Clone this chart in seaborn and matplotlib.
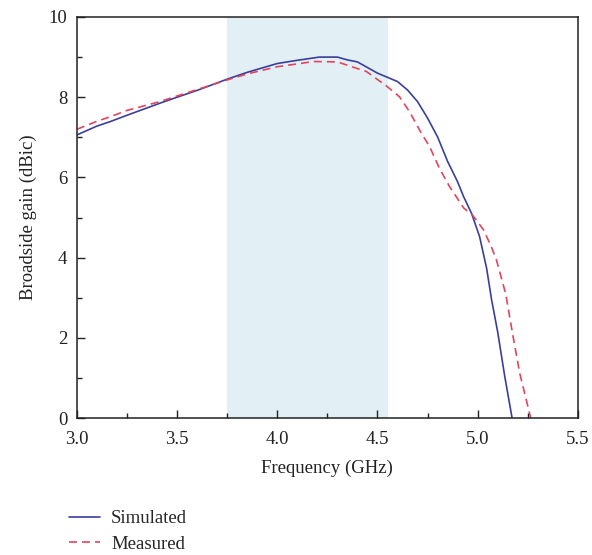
import matplotlib
matplotlib.use("Agg")
import matplotlib.pyplot as plt
from matplotlib.ticker import MultipleLocator, FormatStrFormatter
import seaborn as sns
import pandas as pd

# Simulated broadside gain
freq_sim = [3.00, 3.10, 3.165, 3.25, 3.414, 3.50, 3.60, 3.75, 3.85, 4.00, 4.10,
            4.21, 4.30, 4.35, 4.40, 4.45, 4.50, 4.60, 4.65, 4.70, 4.75, 4.80,
            4.85, 4.90, 4.93, 4.97, 5.01, 5.045, 5.07, 5.10, 5.135, 5.172]
gain_sim = [7.06, 7.28, 7.39, 7.55, 7.85, 8.00, 8.17, 8.45, 8.62, 8.84, 8.92,
            9.00, 9.00, 8.93, 8.88, 8.74, 8.60, 8.39, 8.18, 7.89, 7.48, 7.01,
            6.40, 5.89, 5.52, 5.10, 4.52, 3.73, 2.94, 2.15, 1.05, 0.0]

# Measured broadside gain
freq_meas = [3.00, 3.10, 3.165, 3.25, 3.414, 3.50, 3.60, 3.75, 3.85, 4.00, 4.10,
             4.18, 4.30, 4.36, 4.445, 4.545, 4.61, 4.66, 4.71, 4.76, 4.81, 4.86,
             4.93, 4.976, 5.03, 5.07, 5.094, 5.14, 5.177, 5.21, 5.265]
gain_meas = [7.20, 7.40, 7.51, 7.67, 7.89, 8.03, 8.19, 8.43, 8.58, 8.76, 8.83,
             8.89, 8.88, 8.78, 8.64, 8.28, 8.01, 7.64, 7.18, 6.77, 6.22, 5.77,
             5.24, 5.05, 4.69, 4.25, 3.94, 3.10, 2.03, 1.12, 0.0]

band = (3.75, 4.555)
series_names = ["Simulated", "Measured"]

df = pd.concat([
    pd.DataFrame({"Frequency": freq_sim, "Gain": gain_sim, "Series": series_names[0]}),
    pd.DataFrame({"Frequency": freq_meas, "Gain": gain_meas, "Series": series_names[1]}),
], ignore_index=True)

sns.set_theme(style="ticks")
plt.rcParams["font.family"] = ["Liberation Serif", "DejaVu Serif"]

fig = plt.figure(figsize=(5.92, 5.55), dpi=100)
ax = fig.add_axes([0.130, 0.2468, 0.846, 0.7226])

ax.axvspan(band[0], band[1], color="#e2eff4", zorder=0, lw=0)

sns.lineplot(data=df, x="Frequency", y="Gain", hue="Series", style="Series",
             palette={"Simulated": "#3a3f9c", "Measured": "#e2455c"},
             dashes={"Simulated": "", "Measured": (4.8, 3.0)},
             sort=False, estimator=None, linewidth=1.2, ax=ax, legend=True)

ax.set_xlim(3.0, 5.5)
ax.set_ylim(0, 10)
ax.xaxis.set_major_locator(MultipleLocator(0.5))
ax.xaxis.set_minor_locator(MultipleLocator(0.25))
ax.yaxis.set_major_locator(MultipleLocator(2))
ax.yaxis.set_minor_locator(MultipleLocator(1))
ax.xaxis.set_major_formatter(FormatStrFormatter("%.1f"))
ax.tick_params(which="both", direction="in", top=False, right=False,
               labelsize=13.5, colors="#222222", labelcolor="#222222")
ax.tick_params(which="major", length=6, width=1)
ax.tick_params(which="minor", length=3.5, width=1)
ax.tick_params(axis="x", which="major", pad=9)
ax.tick_params(axis="y", which="major", pad=7)
for s in ax.spines.values():
    s.set_linewidth(1.1)
    s.set_color("#222222")

ax.set_xlabel("Frequency (GHz)", fontsize=13.5, color="#222222", labelpad=9)
ax.set_ylabel("Broadside gain (dBic)", fontsize=13.5, color="#222222", labelpad=8)

handles, labels = ax.get_legend_handles_labels()
ax.get_legend().remove()
fig.legend(handles, labels, loc="lower left", bbox_to_anchor=(0.1166, 0.004),
           frameon=False, fontsize=13.5, handlelength=1.65, handletextpad=0.6,
           labelspacing=0.45, borderpad=0.0, borderaxespad=0.0)

fig.savefig("out.png", dpi=100)
